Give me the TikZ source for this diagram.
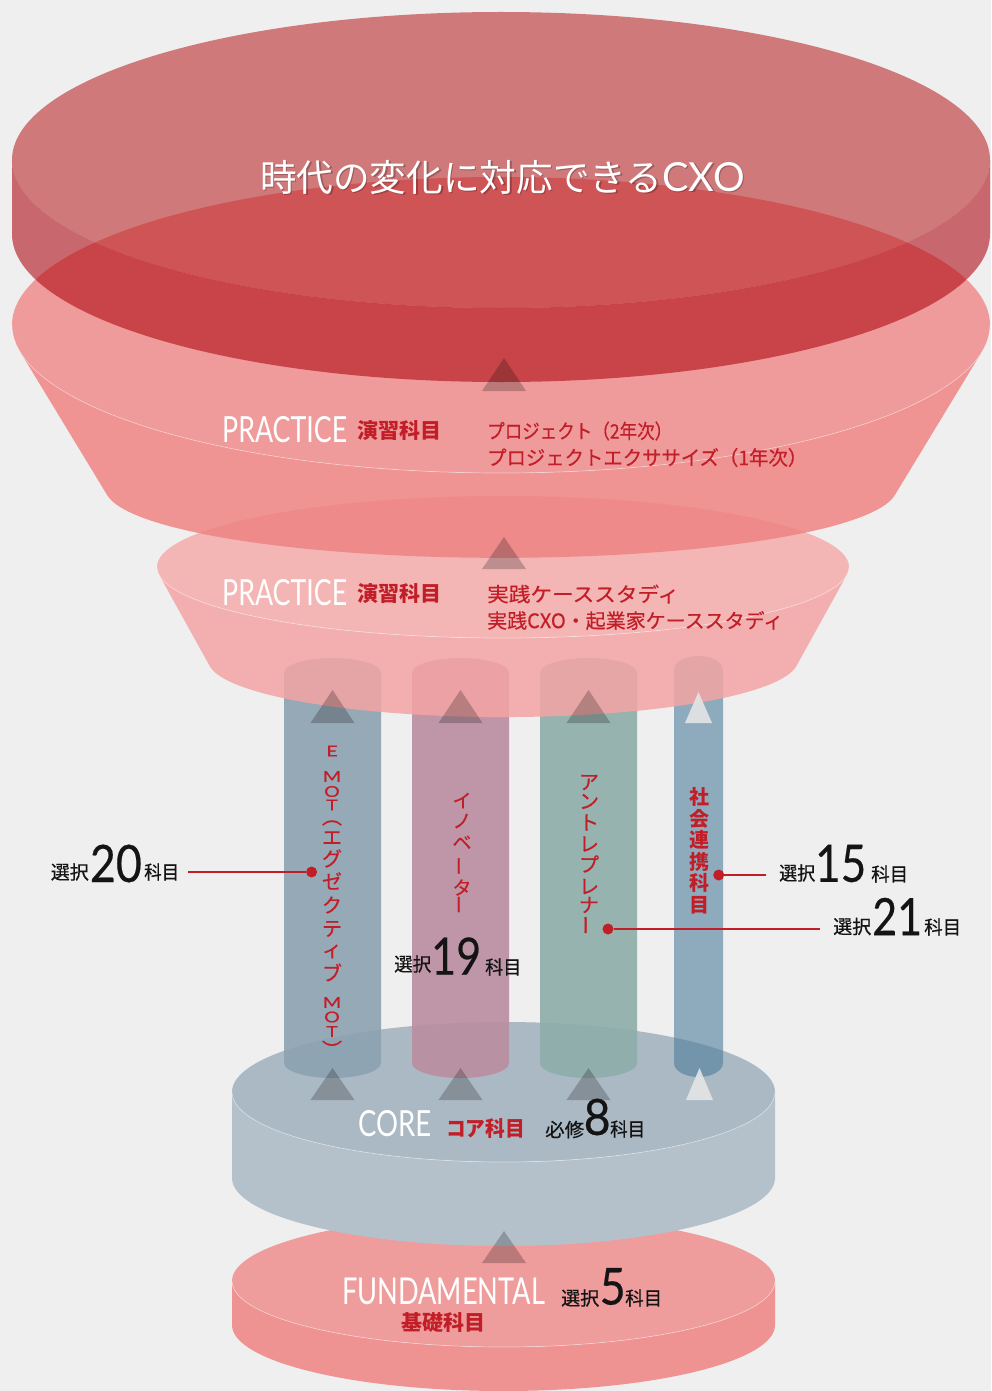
\documentclass[tikz,border=0pt]{standalone}
\usepackage{fontspec}
\usepackage{graphicx}
\setmainfont{Lato}
\newfontfamily\jp{Noto Sans CJK JP}
\newfontfamily\jpm[FakeBold=0.45]{Noto Sans CJK JP}
\newfontfamily\lat{Lato}
\newfontfamily\latm[FakeBold=0.4]{Lato}
\newsavebox\fitbox
\newlength\fitlen
\newcommand\fitto[2]{\sbox\fitbox{#2}\setlength\fitlen{\wd\fitbox}\pgfmathsetmacro\fitr{#1/\fitlen}\scalebox{\fitr}[1]{\usebox\fitbox}}
\newcommand\fsz[1]{\fontsize{#1}{#1}\selectfont}
\newcommand\vbar{\rotatebox{90}{ー}}
\definecolor{bgc}{HTML}{EFEFEF}
\definecolor{tface}{RGB}{182,30,32}
\definecolor{tside}{RGB}{171,0,10}
\definecolor{pAface}{RGB}{239,141,141}
\definecolor{pAside}{RGB}{239,131,131}
\definecolor{pBface}{RGB}{245,171,171}
\definecolor{pBside}{RGB}{244,164,164}
\definecolor{pilA}{RGB}{141,162,178}
\definecolor{pilB}{RGB}{186,141,160}
\definecolor{pilC}{RGB}{142,173,169}
\definecolor{pilD}{RGB}{77,126,157}
\definecolor{coreface}{RGB}{171,185,196}
\definecolor{coreside}{RGB}{180,193,203}
\definecolor{fface}{RGB}{238,156,156}
\definecolor{fside}{RGB}{238,146,146}
\definecolor{jred}{RGB}{194,30,40}
\definecolor{ink}{RGB}{20,20,20}
\tikzset{
  rim/.style={draw=white, draw opacity=.45, line width=.7pt},
  tri/.style={fill=black, fill opacity=.22},
  ltri/.style={fill=white!80!gray, fill opacity=.9},
  txt/.style={inner sep=0pt, anchor=west},
  ctr/.style={inner sep=0pt},
  dot/.style={circle, fill=jred, inner sep=0pt, minimum size=11pt},
  conn/.style={draw=jred, line width=1.6pt}
}
\begin{document}
\begin{tikzpicture}[x=1pt,y=-1pt]
\useasboundingbox (0,0) rectangle (991,1391);
\fill[bgc] (0,0) rectangle (991,1391);

% FUNDAMENTAL cylinder
\fill[fside] (232,1281) -- (232,1325) arc[start angle=180,end angle=0,x radius=271.5,y radius=66] -- (775,1281) arc[start angle=0,end angle=180,x radius=271.5,y radius=66] -- cycle;
\fill[fface] (503.5,1281) ellipse[x radius=271.5,y radius=66];
\draw[rim] (232,1281) arc[start angle=180,end angle=0,x radius=271.5,y radius=66];

% CORE cylinder
\fill[coreside] (232,1092) -- (232,1178) arc[start angle=180,end angle=0,x radius=271.5,y radius=68] -- (775,1092) arc[start angle=0,end angle=180,x radius=271.5,y radius=70] -- cycle;
\fill[coreface] (503.5,1092) ellipse[x radius=271.5,y radius=70];
\draw[rim] (232,1092) arc[start angle=180,end angle=0,x radius=271.5,y radius=70];

% pillars
\fill[pilA, fill opacity=.9] (284,673) arc[start angle=180,end angle=360,x radius=48.5,y radius=15] -- (381,1063) arc[start angle=0,end angle=180,x radius=48.5,y radius=15] -- cycle;
\fill[pilB, fill opacity=.9] (412,673) arc[start angle=180,end angle=360,x radius=48.5,y radius=15] -- (509,1063) arc[start angle=0,end angle=180,x radius=48.5,y radius=15] -- cycle;
\fill[pilC, fill opacity=.9] (540,673) arc[start angle=180,end angle=360,x radius=48.5,y radius=15] -- (637,1063) arc[start angle=0,end angle=180,x radius=48.5,y radius=15] -- cycle;
\fill[pilD, fill opacity=.6] (674,670) arc[start angle=180,end angle=360,x radius=24.5,y radius=14] -- (723,1063) arc[start angle=0,end angle=180,x radius=24.5,y radius=14] -- cycle;

% PRACTICE 2 frustum
\fill[pBside, fill opacity=.85] (159.6,575.7) -- (210,666.6) arc[start angle=173.4,end angle=6.6,x radius=295,y radius=57] -- (846.4,575.7) arc[start angle=7,end angle=173,x radius=346,y radius=71] -- cycle;
\fill[pBface, fill opacity=.85] (503,567) ellipse[x radius=346,y radius=71];
\draw[rim] (157,567) arc[start angle=180,end angle=0,x radius=346,y radius=71];

% PRACTICE 1 frustum
\fill[pAside, fill opacity=.85] (21.5,354) -- (107.7,496) arc[start angle=173.3,end angle=6.7,x radius=396,y radius=70] -- (980.5,354) arc[start angle=11.3,end angle=168.7,x radius=489,y radius=148] -- cycle;
\fill[pAface, fill opacity=.85] (501,325) ellipse[x radius=489,y radius=148];
\draw[rim] (12,325) arc[start angle=180,end angle=0,x radius=489,y radius=148];

% top cylinder
\fill[tside, fill opacity=.56] (12,160) -- (12,234) arc[start angle=180,end angle=0,x radius=489,y radius=148] -- (990,160) arc[start angle=0,end angle=180,x radius=489,y radius=148] -- cycle;
\fill[tface, fill opacity=.56] (501,160) ellipse[x radius=489,y radius=148];

% triangles
\fill[tri] (504,358) -- (526,391) -- (482,391) -- cycle;
\fill[tri] (504,537) -- (526,569) -- (482,569) -- cycle;
\fill[tri] (332.5,690) -- (354.5,723) -- (310.5,723) -- cycle;
\fill[tri] (460.5,690) -- (482.5,723) -- (438.5,723) -- cycle;
\fill[tri] (588.5,690) -- (610.5,723) -- (566.5,723) -- cycle;
\fill[ltri] (698.5,692) -- (712,723) -- (685,723) -- cycle;
\fill[tri] (332.5,1068) -- (354.5,1100) -- (310.5,1100) -- cycle;
\fill[tri] (460.5,1068) -- (482.5,1100) -- (438.5,1100) -- cycle;
\fill[tri] (588.5,1068) -- (610.5,1100) -- (566.5,1100) -- cycle;
\fill[ltri] (699.5,1068) -- (713,1100) -- (686,1100) -- cycle;
\fill[tri] (504,1231) -- (526,1263) -- (482,1263) -- cycle;

% title
\node[ctr, text=black, text opacity=.25] (titlesh) at (504,178.5) {\fitto{485}{{\jp\fsz{37}時代の変化に対応できる}{\lat\fsz{40}CXO}}};
\node[ctr, text=white] (title) at (502.5,177) {\fitto{485}{{\jp\fsz{37}時代の変化に対応できる}{\lat\fsz{40}CXO}}};

% practice rows
\node[txt,text=white] (prA) at (222,430) {\fitto{125}{\lat\fsz{36}PRACTICE}};
\node[txt,text=jred] (enA) at (357.6,431) {\fitto{84}{\jp\bfseries\fsz{21}演習科目}};
\node[txt,text=jred] (pjA) at (487,431) {\fitto{185}{\jpm\fsz{20}プロジェクト（2年次）}};
\node[txt,text=jred] (pjB) at (487,457.5) {\fitto{320}{\jpm\fsz{20}プロジェクトエクササイズ（1年次）}};
\node[txt,text=white] (prB) at (222,593) {\fitto{125}{\lat\fsz{36}PRACTICE}};
\node[txt,text=jred] (enB) at (357.6,594) {\fitto{84}{\jp\bfseries\fsz{21}演習科目}};
\node[txt,text=jred] (csA) at (487,594) {\fitto{192}{\jpm\fsz{20}実践ケーススタディ}};
\node[txt,text=jred] (csB) at (487,620.5) {\fitto{296}{\jpm\fsz{20}実践CXO・起業家ケーススタディ}};

% vertical pillar texts
\foreach \ch/\yy [count=\i] in {E/751, M/776.5, O/791.5, T/805, M/1002.5, O/1017, T/1031.5}
  \node[ctr,text=jred] (emA\i) at (332,\yy) {\scalebox{1.3}[1]{\latm\fsz{15}\ch}};
\foreach \ch/\yy [count=\i] in {︵/823, エ/838, グ/858.5, ゼ/881, ク/905, テ/929, ィ/951.5, ブ/972.5, ︶/1049}
  \node[ctr,text=jred] (emB\i) at (332,\yy) {\jpm\fsz{20}\ch};
\foreach \ch/\yy [count=\i] in {イ/800.5, ノ/821, ベ/842.5, \vbar/866, タ/887.5, \vbar/904.5}
  \node[ctr,text=jred] (inv\i) at (462,\yy) {\jpm\fsz{19}\ch};
\foreach \ch/\yy [count=\i] in {ア/782.5, ン/801.5, ト/822.5, レ/844, プ/864, レ/886.5, ナ/905, \vbar/925}
  \node[ctr,text=jred] (ent\i) at (589,\yy) {\jpm\fsz{20}\ch};
\foreach \ch/\yy [count=\i] in {社/797, 会/819, 連/840, 携/862, 科/883, 目/905}
  \node[ctr,text=jred] (soc\i) at (699,\yy) {\jp\bfseries\fsz{20}\ch};

% counts
\node[txt,text=ink] (sA) at (50.6,872) {\fitto{38}{\jpm\fsz{19}選択}};
\node[txt,text=ink] (nA) at (89.7,863.5) {\fitto{52}{\latm\fsz{51.6}20}};
\node[txt,text=ink] (kA) at (144,872) {\fitto{35}{\jpm\fsz{19}科目}};
\node[txt,text=ink] (sB) at (779,873) {\fitto{36}{\jpm\fsz{19}選択}};
\node[txt,text=ink] (nB) at (815,863.5) {\fitto{51}{\latm\fsz{51.6}15}};
\node[txt,text=ink] (kB) at (871,874) {\fitto{37}{\jpm\fsz{19}科目}};
\node[txt,text=ink] (sC) at (833,926.5) {\fitto{38}{\jpm\fsz{19}選択}};
\node[txt,text=ink] (nC) at (872,916.5) {\fitto{50}{\latm\fsz{51.6}21}};
\node[txt,text=ink] (kC) at (924,927) {\fitto{37}{\jpm\fsz{19}科目}};
\node[txt,text=ink] (sD) at (394,964) {\fitto{37}{\jpm\fsz{19}選択}};
\node[txt,text=ink] (nD) at (431,956) {\fitto{50}{\latm\fsz{51.6}19}};
\node[txt,text=ink] (kD) at (485,967) {\fitto{36}{\jpm\fsz{19}科目}};

% connectors
\node[dot] (dA) at (311.6,872) {};
\node[dot] (dB) at (718.7,875) {};
\node[dot] (dC) at (608,929) {};
\coordinate (eA) at (188,872);
\coordinate (eB) at (766,875);
\coordinate (eC) at (820,929);
\draw[conn] (eA) -- (dA);
\draw[conn] (dB) -- (eB);
\draw[conn] (dC) -- (eC);

% core texts
\node[txt,text=white] (core) at (358,1124) {\fitto{73}{\lat\fsz{36}CORE}};
\node[txt,text=jred] (corej) at (446,1128) {\fitto{79}{\jp\bfseries\fsz{21}コア科目}};
\node[txt,text=ink] (hs) at (545,1129.5) {\fitto{39}{\jpm\fsz{19}必修}};
\node[txt,text=ink] (n8) at (583.5,1117) {\fitto{27}{\latm\fsz{50}8}};
\node[txt,text=ink] (hk) at (610,1129) {\fitto{35}{\jpm\fsz{19}科目}};

% fundamental texts
\node[txt,text=white] (fund) at (342,1291.5) {\fitto{203}{\lat\fsz{37}FUNDAMENTAL}};
\node[txt,text=ink] (fs) at (561,1298) {\fitto{38}{\jpm\fsz{19}選択}};
\node[txt,text=ink] (n5) at (599.5,1286.5) {\fitto{26}{\latm\fsz{51}5}};
\node[txt,text=ink] (fk) at (625,1298) {\fitto{37}{\jpm\fsz{19}科目}};
\node[txt,text=jred] (fj) at (401,1322.5) {\fitto{84}{\jp\bfseries\fsz{21}基礎科目}};
\end{tikzpicture}
\end{document}
